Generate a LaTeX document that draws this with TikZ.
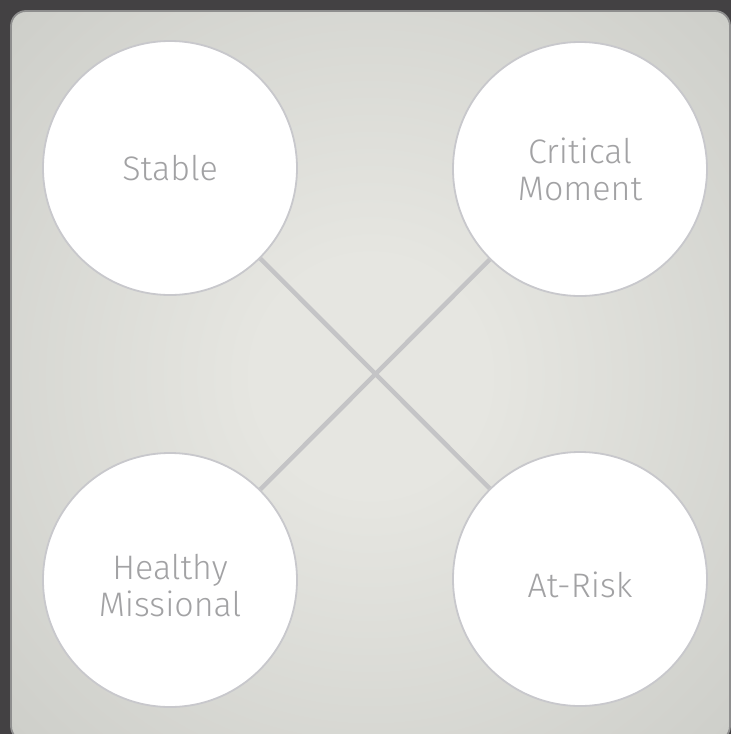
\documentclass[tikz,border=0pt]{standalone}
\usepackage{fontspec}
\setmainfont{Fira Sans}[UprightFont=* Light]
\definecolor{bgdark}{HTML}{434143}
\definecolor{pin}{HTML}{E6E6E1}
\definecolor{pout}{HTML}{CDCEC9}
\definecolor{pedge}{HTML}{8E8E8E}
\definecolor{ringc}{HTML}{C8C8CC}
\definecolor{linkc}{HTML}{C4C4C6}
\definecolor{txtc}{HTML}{A2A2A4}
\pgfdeclareradialshading{panelshade}{\pgfpoint{0bp}{0bp}}{color(0bp)=(pin); color(8bp)=(pin); color(36bp)=(pout); color(50bp)=(pout)}
\tikzset{
  bubble/.style={circle, minimum size=254pt, inner sep=0pt, fill=white, draw=ringc, line width=1.8pt},
  label txt/.style={text=txtc, font=\fontsize{34}{37}\selectfont, align=center, inner sep=0pt},
  link/.style={draw=linkc, line width=4.5pt}
}
\begin{document}
\begin{tikzpicture}[x=1pt,y=-1pt]
\useasboundingbox (0,0) rectangle (731,734);
\fill[bgdark] (0,0) rectangle (731,734);
\begin{scope}
\clip (0,0) rectangle (731,734);
\shade[shading=panelshade, draw=pedge, line width=1.8pt, rounded corners=15pt] (11,11) rectangle (730,741);
\end{scope}
\node[bubble] (s) at (170,168) {};
\node[bubble] (c) at (580,169) {};
\node[bubble] (h) at (170,580) {};
\node[bubble] (r) at (580,579) {};
\draw[link] (s) -- (r);
\draw[link] (c) -- (h);
\node[label txt] (ts) at (s.center) {Stable};
\node[label txt] (tc) at (c.center) {Critical\\Moment};
\node[label txt] (th) at ([yshift=-6pt]h.center) {Healthy\\Missional};
\node[label txt] (tr) at ([yshift=-6pt]r.center) {At-Risk};
\end{tikzpicture}
\end{document}
